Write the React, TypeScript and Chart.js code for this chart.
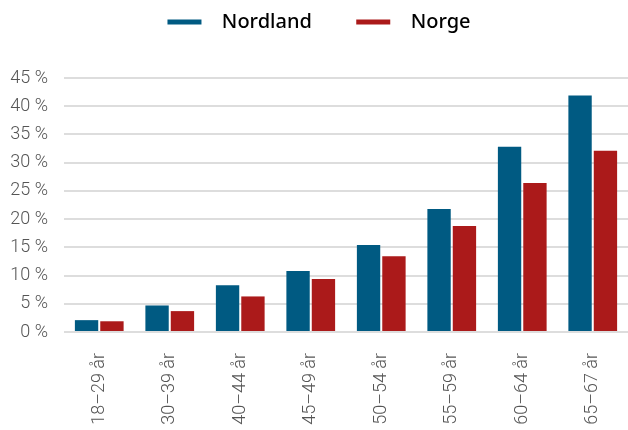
import React, { useEffect, useRef } from "react";
import { Chart, registerables } from "chart.js";

Chart.register(...registerables);

const categories = ["18–29 år", "30–39 år", "40–44 år", "45–49 år", "50–54 år", "55–59 år", "60–64 år", "65–67 år"];
const nordland = [2.1, 4.7, 8.3, 10.8, 15.4, 21.8, 32.8, 41.9];
const norge = [1.9, 3.7, 6.3, 9.4, 13.4, 18.8, 26.4, 32.1];
const seriesNames = ["Nordland", "Norge"];
const colors = ["#005a82", "#ab1a1a"];

const legendSpacer = {
  id: "legendSpacer",
  beforeInit(chart: any) {
    const lg = chart.legend;
    if (!lg) return;
    const orig = lg.fit;
    lg.fit = function () {
      orig.call(lg);
      lg.height += 36;
    };
    const od = lg.draw;
    lg.draw = function () {
      lg.left += 10;
      od.call(lg);
      lg.left -= 10;
    };
  },
};

export default function App() {
  const ref = useRef<HTMLCanvasElement | null>(null);
  useEffect(() => {
    document.body.style.margin = "0";
    const ctx = ref.current!;
    const chart = new Chart(ctx, {
      type: "bar",
      data: {
        labels: categories,
        datasets: [
          { label: seriesNames[0], data: nordland, backgroundColor: colors[0], borderWidth: 0, barPercentage: 0.92, categoryPercentage: 0.72 },
          { label: seriesNames[1], data: norge, backgroundColor: colors[1], borderWidth: 0, barPercentage: 0.92, categoryPercentage: 0.72 },
        ],
      },
      plugins: [legendSpacer],
      options: {
        animation: false,
        responsive: false,
        maintainAspectRatio: false,
        layout: { padding: { left: 0, right: 0, top: 4, bottom: 0 } },
        plugins: {
          tooltip: { enabled: false },
          legend: {
            position: "top",
            labels: {
              boxWidth: 34,
              boxHeight: 5,
              padding: 8,
              color: "#111",
              font: { family: "Noto Sans", size: 20, weight: "500" },
              generateLabels: (chart: any) =>
                chart.data.datasets.map((d: any, i: number) => ({
                  text: "  " + d.label + (i === 0 ? "       " : ""),
                  fillStyle: d.backgroundColor,
                  strokeStyle: d.backgroundColor,
                  lineWidth: 0,
                  hidden: false,
                  datasetIndex: i,
                })),
            },
          },
        },
        scales: {
          x: {
            grid: { display: false },
            border: { display: false },
            afterFit: (s: any) => {
              s.height = 98;
            },
            ticks: {
              minRotation: 90,
              maxRotation: 90,
              color: "#555",
              padding: 13,
              font: { family: "Roboto", size: 18, weight: "300" },
            },
          },
          y: {
            min: 0,
            max: 45,
            border: { display: false },
            afterFit: (s: any) => {
              s.width = 64;
            },
            grid: { color: "#dddddd", lineWidth: 2, drawTicks: false },
            ticks: {
              stepSize: 5,
              padding: 16,
              color: "#555",
              font: { family: "Roboto", size: 18, weight: "300" },
              callback: (v: any) => v + " %",
            },
          },
        },
      },
    });
    return () => chart.destroy();
  }, []);
  return (
    <div style={{ width: 628, height: 430 }}>
      <canvas ref={ref} width={628} height={430} />
    </div>
  );
}
